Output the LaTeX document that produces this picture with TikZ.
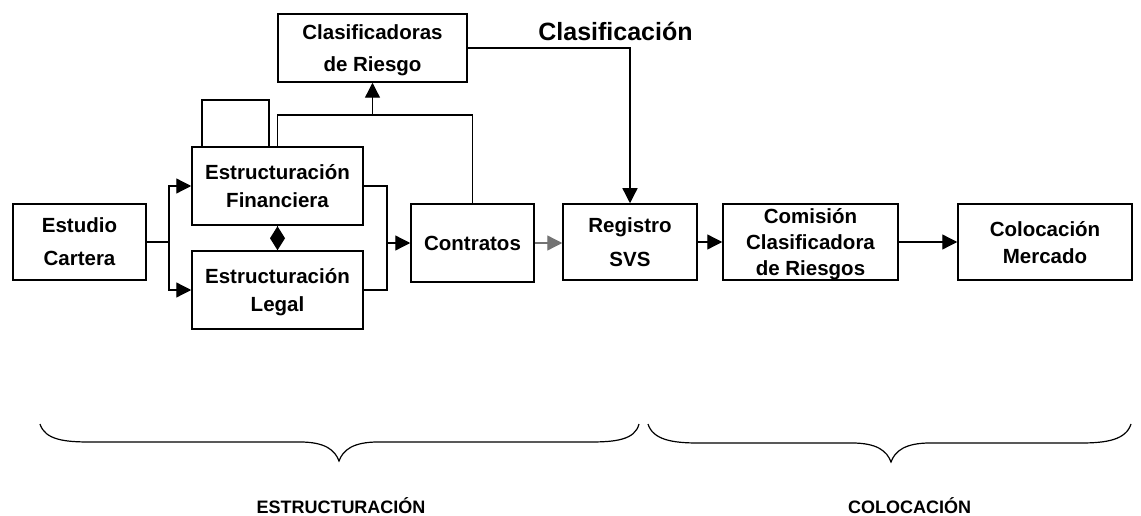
\documentclass[tikz,border=0pt]{standalone}
\usepackage{fontspec}
\setmainfont{Liberation Sans}
\usetikzlibrary{arrows.meta}
\begin{document}
\begin{tikzpicture}[x=1pt,y=-1pt,
  lsp/.style={font=\bfseries\fontsize{20.5}{#1}\selectfont},
  box/.style={draw=black, line width=1.5pt, inner sep=0pt, align=center,
              text depth=0pt, lsp=28},
  conn/.style={line width=1.3pt, draw=black},
  arr/.style={conn, -{Triangle[length=15pt,width=15pt]}},
  lab/.style={font=\bfseries\fontsize{18}{18}\selectfont, inner sep=0pt, anchor=base},
  brace/.style={line width=1.2pt, draw=black}]
\useasboundingbox[fill=white] (0,0) rectangle (1141,516);

% boxes
\node[box, lsp=33, minimum width=133pt, minimum height=76pt] (est) at (79.5,242) {Estudio\\Cartera};
\node[box, lsp=32, minimum width=189pt, minimum height=68pt] (cla) at (372.5,48) {Clasificadoras\\de Riesgo};
\node[box, minimum width=171pt, minimum height=78pt] (ef) at (277.5,186) {Estructuración\\Financiera};
\node[box, minimum width=171pt, minimum height=78pt] (el) at (277.5,290) {Estructuración\\Legal};
\node[box, minimum width=123pt, minimum height=78pt] (con) at (472.5,243) {Contratos};
\node[box, lsp=34, minimum width=134pt, minimum height=76pt] (reg) at (630,242) {Registro\\SVS};
\node[box, lsp=26, minimum width=175pt, minimum height=76pt] (com) at (810.5,242) {Comisión\\Clasificadora\\de Riesgos};
\node[box, lsp=27, minimum width=174pt, minimum height=76pt] (col) at (1045,242) {Colocación\\Mercado};

\node[font=\bfseries\fontsize{25}{25}\selectfont, inner sep=0pt, anchor=base] (tcla) at (615.5,41) {Clasificación};

% connectors
\coordinate (sp) at (169,242);
\draw[conn] (est.east) -- (sp);
\draw[arr] (sp) |- (ef.west);
\draw[arr] (sp) |- (el.west);

\coordinate (jn) at (387,243);
\draw[conn] (ef.east) -| (jn) |- (el.east);
\draw[arr] (jn) -- (con.west);

\coordinate (lp1) at (202,100);
\coordinate (lp2) at (269,100);
\draw[conn] (lp1 |- ef.north) -- (lp1) -- (lp2) -- (lp2 |- ef.north);

\coordinate (tp) at (372.5,115);
\draw[conn] (ef.north) |- (tp) -| (con.north);
\draw[arr] (tp) -- (cla.south);

\draw[arr] (cla.east) -| (reg.north);
\draw[arr, draw=black!55] (con.east) -- (con.east -| reg.west);
\draw[arr] (reg.east) -- (com.west);
\draw[arr] (com.east) -- (col.west);

\draw[conn, -{Diamond[length=24pt,width=15pt]}] (ef.south) -- (el.north);

% braces
\draw[brace] (40,424) .. controls (45,440) and (65,442) .. (90,442) -- (300,442)
  .. controls (325,442) and (335,450) .. (339,461)
  .. controls (343,450) and (353,442) .. (378,442) -- (590,442)
  .. controls (615,442) and (635,440) .. (639,424);
\draw[brace] (648,424) .. controls (653,440) and (673,443) .. (698,443) -- (852,443)
  .. controls (877,443) and (887,451) .. (891,462)
  .. controls (895,451) and (905,443) .. (930,443) -- (1081,443)
  .. controls (1106,443) and (1126,440) .. (1131,424);

\node[lab] (lest) at (341,513) {ESTRUCTURACIÓN};
\node[lab] (lcol) at (909.5,513) {COLOCACIÓN};
\end{tikzpicture}
\end{document}
